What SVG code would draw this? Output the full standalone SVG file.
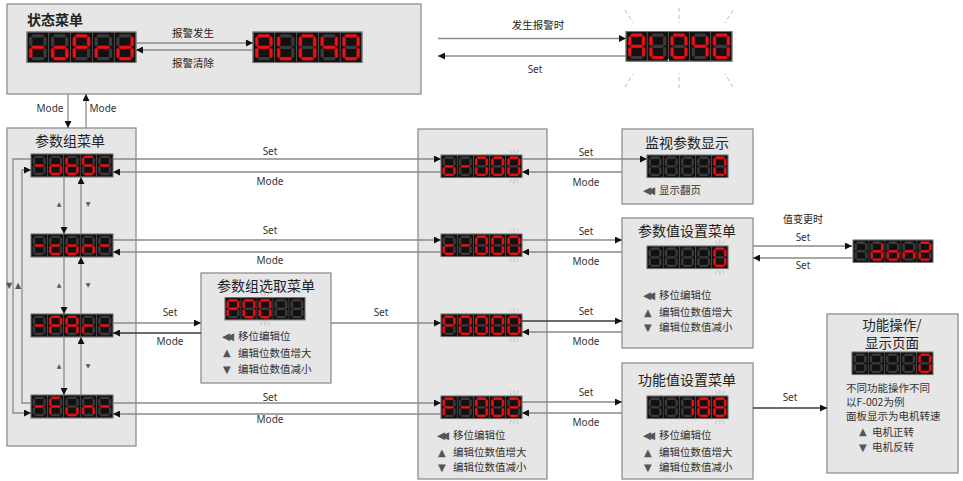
<svg xmlns="http://www.w3.org/2000/svg" width="963" height="481" viewBox="0 0 963 481">
<style>
.box{fill:#e6e6e6;stroke:#8f8f8f;stroke-width:1.3}
.t{font-family:"Noto Sans CJK SC","Noto Sans",sans-serif;fill:#222}
.title{font-size:14px;text-anchor:middle}
.lbl{font-family:"Noto Sans","Noto Sans CJK SC",sans-serif;font-size:10px;fill:#333;text-anchor:middle}
.item{font-family:"Noto Sans CJK SC","Noto Sans",sans-serif;font-size:10.5px;fill:#333}
.ic{font-family:"DejaVu Sans",sans-serif;fill:#555}
.rw{font-family:"DejaVu Sans",sans-serif;fill:#555;font-size:10.5px;letter-spacing:-4px}
.tri{font-family:"DejaVu Sans",sans-serif;fill:#555;font-size:10px}
.cn{fill:none;stroke:#8a8a8a;stroke-width:1.3}
.dk{stroke:#3a3a3a}
.off{fill:#3a3a3a}
.on{fill:#ee1118;stroke:#8a0000;stroke-width:0.4}
.ray{stroke:#b4b4b4;stroke-width:0.9}
.frame{fill:none;stroke:#777;stroke-width:1}
</style>
<defs>
<marker id="ah" viewBox="0 0 8 8" refX="8" refY="4" markerWidth="7" markerHeight="7" markerUnits="userSpaceOnUse" orient="auto"><path d="M0,0 L8,4 L0,8 z" fill="#111"/></marker>
<polygon id="sa" points="3.9,3.5 5.4,2 14.6,2 16.1,3.5 14.6,5 5.4,5"/>
<polygon id="sg" points="3.9,14 5.4,12.5 14.6,12.5 16.1,14 14.6,15.5 5.4,15.5"/>
<polygon id="sd" points="3.9,24.5 5.4,23 14.6,23 16.1,24.5 14.6,26 5.4,26"/>
<polygon id="sf" points="3.5,3.9 5,5.4 5,12.1 3.5,13.6 2,12.1 2,5.4"/>
<polygon id="sb" points="16.5,3.9 18,5.4 18,12.1 16.5,13.6 15,12.1 15,5.4"/>
<polygon id="se" points="3.5,14.4 5,15.9 5,22.6 3.5,24.1 2,22.6 2,15.9"/>
<polygon id="sc" points="16.5,14.4 18,15.9 18,22.6 16.5,24.1 15,22.6 15,15.9"/>
<g id="cell"><rect width="20" height="28" fill="#111" stroke="#555" stroke-width="0.6"/><g class="off"><use href="#sa"/><use href="#sb"/><use href="#sc"/><use href="#sd"/><use href="#se"/><use href="#sf"/><use href="#sg"/></g></g>
<g id="c_"><use href="#cell"/></g>
<g id="cM"><use href="#cell"/><g class="on"><use href="#sg"/></g></g>
<g id="cr"><use href="#cell"/><g class="on"><use href="#se"/><use href="#sg"/></g></g>
<g id="co"><use href="#cell"/><g class="on"><use href="#sc"/><use href="#sd"/><use href="#se"/><use href="#sg"/></g></g>
<g id="cP"><use href="#cell"/><g class="on"><use href="#sa"/><use href="#sb"/><use href="#se"/><use href="#sf"/><use href="#sg"/></g></g>
<g id="cd"><use href="#cell"/><g class="on"><use href="#sb"/><use href="#sc"/><use href="#sd"/><use href="#se"/><use href="#sg"/></g></g>
<g id="cA"><use href="#cell"/><g class="on"><use href="#sa"/><use href="#sb"/><use href="#sc"/><use href="#se"/><use href="#sf"/><use href="#sg"/></g></g>
<g id="cL"><use href="#cell"/><g class="on"><use href="#sd"/><use href="#se"/><use href="#sf"/></g></g>
<g id="c0"><use href="#cell"/><g class="on"><use href="#sa"/><use href="#sb"/><use href="#sc"/><use href="#sd"/><use href="#se"/><use href="#sf"/></g></g>
<g id="c4"><use href="#cell"/><g class="on"><use href="#sb"/><use href="#sc"/><use href="#sf"/><use href="#sg"/></g></g>
<g id="cb"><use href="#cell"/><g class="on"><use href="#sc"/><use href="#sd"/><use href="#se"/><use href="#sf"/><use href="#sg"/></g></g>
<g id="cS"><use href="#cell"/><g class="on"><use href="#sa"/><use href="#sc"/><use href="#sd"/><use href="#sf"/><use href="#sg"/></g></g>
<g id="cc"><use href="#cell"/><g class="on"><use href="#sd"/><use href="#se"/><use href="#sg"/></g></g>
<g id="cn"><use href="#cell"/><g class="on"><use href="#sc"/><use href="#se"/><use href="#sg"/></g></g>
<g id="cF"><use href="#cell"/><g class="on"><use href="#sa"/><use href="#se"/><use href="#sf"/><use href="#sg"/></g></g>
<g id="cu"><use href="#cell"/><g class="on"><use href="#sc"/><use href="#sd"/><use href="#se"/></g></g>
<g id="c2"><use href="#cell"/><g class="on"><use href="#sa"/><use href="#sb"/><use href="#sd"/><use href="#se"/><use href="#sg"/></g></g>
<g id="c1"><use href="#cell"/><g class="on"><use href="#sb"/><use href="#sc"/></g></g>
<g id="c8"><use href="#cell"/><g class="on"><use href="#sa"/><use href="#sb"/><use href="#sc"/><use href="#sd"/><use href="#se"/><use href="#sf"/><use href="#sg"/></g></g>
<g id="rays" class="ray"><line x1="-3" y1="-1.5" x2="-5.5" y2="-6.5"/><line x1="0" y1="-1.5" x2="0" y2="-7.5"/><line x1="3" y1="-1.5" x2="5.5" y2="-6.5"/><line x1="-3" y1="29.5" x2="-5.5" y2="34.5"/><line x1="0" y1="29.5" x2="0" y2="35.5"/><line x1="3" y1="29.5" x2="5.5" y2="34.5"/></g>
</defs>

<rect width="963" height="481" fill="#fff"/>

<!-- nodes -->
<g id="status-menu">
<rect class="box" x="7" y="4" width="414" height="90"/>
<text class="t" x="27" y="25" font-size="14" font-weight="bold">状态菜单</text>
<g transform="translate(27,32) scale(1.09)"><use href="#cr"/><use href="#co" x="20"/><use href="#cP" x="40"/><use href="#cr" x="60"/><use href="#cd" x="80"/><rect class="frame" width="100" height="28"/></g>
<g transform="translate(253,32) scale(1.09)"><use href="#cA"/><use href="#cL" x="20"/><use href="#c0" x="40"/><use href="#c4" x="60"/><use href="#c0" x="80"/><rect class="frame" width="100" height="28"/></g>
</g>

<g id="alarm-display">
<g transform="translate(626,31.5) scale(1.06)"><use href="#cA"/><use href="#cL" x="20"/><use href="#c0" x="40"/><use href="#c4" x="60"/><use href="#c0" x="80"/><rect class="frame" width="100" height="28"/><circle cx="40" cy="27" r="0.8" fill="#eee"/></g>
<g class="ray" stroke-dasharray="4,3"><line x1="625" y1="10" x2="633" y2="23"/><line x1="679" y1="8" x2="679" y2="23"/><line x1="733" y1="10" x2="725" y2="23"/><line x1="625" y1="87" x2="633" y2="74"/><line x1="679" y1="88" x2="679" y2="73"/><line x1="733" y1="87" x2="725" y2="74"/></g>
</g>

<g id="param-group-menu">
<rect class="box" x="7" y="128" width="129" height="318"/>
<text class="t title" x="70" y="146">参数组菜单</text>
<g transform="translate(31,154) scale(0.82)"><use href="#cM"/><use href="#co" x="20"/><use href="#cb" x="40"/><use href="#cS" x="60"/><use href="#cM" x="80"/><rect class="frame" width="100" height="28"/></g>
<g transform="translate(31,234) scale(0.82)"><use href="#cM"/><use href="#cc" x="20"/><use href="#co" x="40"/><use href="#cn" x="60"/><use href="#cM" x="80"/><rect class="frame" width="100" height="28"/></g>
<g transform="translate(31,314) scale(0.82)"><use href="#cM"/><use href="#cP" x="20"/><use href="#cA" x="40"/><use href="#cr" x="60"/><use href="#cM" x="80"/><rect class="frame" width="100" height="28"/></g>
<g transform="translate(31,395) scale(0.82)"><use href="#cM"/><use href="#cF" x="20"/><use href="#cu" x="40"/><use href="#cn" x="60"/><use href="#cM" x="80"/><rect class="frame" width="100" height="28"/></g>
</g>

<g id="param-select-menu">
<rect class="box" x="201" y="273" width="130" height="110"/>
<text class="t title" x="266" y="291">参数组选取菜单</text>
<g transform="translate(225,297.5) scale(0.8)"><use href="#cP"/><use href="#c0" x="20"/><use href="#c0" x="40"/><use href="#c_" x="60"/><use href="#c_" x="80"/><rect class="frame" width="100" height="28"/><use href="#rays" x="50"/></g>
<text class="rw" x="222" y="339.5">◀◀</text><text class="item" x="238" y="339.5">移位编辑位</text>
<text class="tri" x="223" y="356">▲</text><text class="item" x="238" y="356.5">编辑位数值增大</text>
<text class="tri" x="223" y="372.5">▼</text><text class="item" x="238" y="373">编辑位数值减小</text>
</g>

<g id="param-list">
<rect class="box" x="418" y="129" width="129" height="350"/>
<g transform="translate(441,155) scale(0.81)"><use href="#co"/><use href="#cM" x="20"/><use href="#c0" x="40"/><use href="#c0" x="60"/><use href="#c0" x="80"/><rect class="frame" width="100" height="28"/><use href="#rays" x="90"/></g>
<g transform="translate(441,234) scale(0.81)"><use href="#cc"/><use href="#cM" x="20"/><use href="#c0" x="40"/><use href="#c0" x="60"/><use href="#c0" x="80"/><rect class="frame" width="100" height="28"/><use href="#rays" x="90"/></g>
<g transform="translate(441,314) scale(0.81)"><use href="#cP"/><use href="#c0" x="20"/><use href="#c0" x="40"/><use href="#c0" x="60"/><use href="#c0" x="80"/><rect class="frame" width="100" height="28"/><use href="#rays" x="90"/></g>
<g transform="translate(441,396) scale(0.81)"><use href="#cF"/><use href="#cM" x="20"/><use href="#c0" x="40"/><use href="#c0" x="60"/><use href="#c2" x="80"/><rect class="frame" width="100" height="28"/><use href="#rays" x="90"/></g>
<text class="rw" x="437" y="439">◀◀</text><text class="item" x="453" y="439">移位编辑位</text>
<text class="tri" x="438" y="455.5">▲</text><text class="item" x="453" y="456">编辑位数值增大</text>
<text class="tri" x="438" y="470.5">▼</text><text class="item" x="453" y="471">编辑位数值减小</text>
</g>

<g id="monitor-display">
<rect class="box" x="622" y="129" width="131" height="75"/>
<text class="t title" x="687" y="148">监视参数显示</text>
<g transform="translate(647,155) scale(0.81)"><use href="#c_"/><use href="#c_" x="20"/><use href="#c_" x="40"/><use href="#c_" x="60"/><use href="#c0" x="80"/><rect class="frame" width="100" height="28"/></g>
<text class="rw" x="643" y="194">◀◀</text><text class="item" x="659" y="194">显示翻页</text>
</g>

<g id="param-value-menu">
<rect class="box" x="622" y="218" width="131" height="130"/>
<text class="t title" x="687" y="236">参数值设置菜单</text>
<g transform="translate(647,246) scale(0.81)"><use href="#c_"/><use href="#c_" x="20"/><use href="#c_" x="40"/><use href="#c_" x="60"/><use href="#c0" x="80"/><rect class="frame" width="100" height="28"/><use href="#rays" x="90"/></g>
<text class="rw" x="643" y="299">◀◀</text><text class="item" x="659" y="299">移位编辑位</text>
<text class="tri" x="644" y="315.5">▲</text><text class="item" x="659" y="316">编辑位数值增大</text>
<text class="tri" x="644" y="330.5">▼</text><text class="item" x="659" y="331">编辑位数值减小</text>
</g>

<g id="done-display">
<g transform="translate(853,240) scale(0.8)"><use href="#c_"/><use href="#cd" x="20"/><use href="#co" x="40"/><use href="#cn" x="60"/><use href="#c2" x="80"/><rect class="frame" width="100" height="28"/></g>
</g>

<g id="func-value-menu">
<rect class="box" x="622" y="363" width="131" height="116"/>
<text class="t title" x="687" y="385">功能值设置菜单</text>
<g transform="translate(647,396) scale(0.81)"><use href="#c_"/><use href="#c_" x="20"/><use href="#c1" x="40"/><use href="#c8" x="60"/><use href="#c8" x="80"/><rect class="frame" width="100" height="28"/><use href="#rays" x="90"/></g>
<text class="rw" x="643" y="439">◀◀</text><text class="item" x="659" y="439">移位编辑位</text>
<text class="tri" x="644" y="455.5">▲</text><text class="item" x="659" y="456">编辑位数值增大</text>
<text class="tri" x="644" y="470.5">▼</text><text class="item" x="659" y="471">编辑位数值减小</text>
</g>

<g id="func-op-page">
<rect class="box" x="827" y="314" width="131" height="159"/>
<text class="t" x="892" y="330" font-size="13.5" text-anchor="middle">功能操作/</text>
<text class="t" x="892" y="348" font-size="13.5" text-anchor="middle">显示页面</text>
<g transform="translate(852,352) scale(0.81)"><use href="#c_"/><use href="#c_" x="20"/><use href="#c_" x="40"/><use href="#c_" x="60"/><use href="#c0" x="80"/><rect class="frame" width="100" height="28"/></g>
<text class="item" x="846" y="391.5" font-size="10">不同功能操作不同</text>
<text class="item" x="846" y="405.5" font-size="10">以F-002为例</text>
<text class="item" x="846" y="419.5" font-size="10">面板显示为电机转速</text>
<text class="tri" x="859" y="435">▲</text><text class="item" x="872" y="435.5" font-size="11">电机正转</text>
<text class="tri" x="859" y="450.5">▼</text><text class="item" x="872" y="451" font-size="11">电机反转</text>
</g>

<!-- connectors -->
<g id="connectors">
<g class="cn" marker-end="url(#ah)">
<path d="M136,43 H253"/>
<path d="M253,50 H136"/>
<path d="M438,38.5 H626"/>
<path d="M626,56 H438"/>
<path d="M68,94 V128"/>
<path d="M86,128 V94"/>
<path d="M64,177 V234"/>
<path d="M81,234 V177"/>
<path d="M64,257 V314"/>
<path d="M81,314 V257"/>
<path d="M64,337 V395"/>
<path d="M81,395 V337"/>
<path d="M31,159 H13 V413 H31"/>
<path d="M31,403 H22 V170 H31"/>
<path d="M113,159 H441"/>
<path d="M441,172 H113"/>
<path d="M113,240 H441"/>
<path d="M441,252 H113"/>
<path d="M113,323 H201"/>
<path class="dk" d="M201,333 H113"/>
<path d="M331,323 H441"/>
<path d="M113,403 H441"/>
<path d="M441,414 H113"/>
<path d="M522,159 H647"/>
<path d="M622,172 H522"/>
<path d="M522,240 H622"/>
<path d="M622,252 H522"/>
<path class="dk" d="M522,321 H622"/>
<path d="M622,332 H522"/>
<path d="M522,402 H622"/>
<path d="M622,413 H522"/>
<path d="M753,246 H852"/>
<path d="M852,258 H753"/>
<path class="dk" d="M753,408 H827"/>
</g>
<g class="lbl">
<text class="t" x="193" y="37" font-size="10.5" text-anchor="middle" fill="#333">报警发生</text>
<text class="t" x="193" y="67" font-size="10.5" text-anchor="middle" fill="#333">报警清除</text>
<text class="t" x="538" y="29" font-size="10.5" text-anchor="middle" fill="#333">发生报警时</text>
<text x="535" y="73">Set</text>
<text x="50" y="112">Mode</text>
<text x="103" y="112">Mode</text>
<text x="270" y="155">Set</text>
<text x="270" y="185">Mode</text>
<text x="270" y="234">Set</text>
<text x="270" y="264">Mode</text>
<text x="170" y="316">Set</text>
<text x="170" y="345">Mode</text>
<text x="381" y="316">Set</text>
<text x="270" y="401">Set</text>
<text x="270" y="423">Mode</text>
<text x="586" y="156">Set</text>
<text x="586" y="186">Mode</text>
<text x="586" y="235">Set</text>
<text x="586" y="265">Mode</text>
<text x="586" y="315">Set</text>
<text x="586" y="345">Mode</text>
<text x="586" y="396">Set</text>
<text x="586" y="426">Mode</text>
<text class="t" x="803" y="223" font-size="10" text-anchor="middle" fill="#333">值变更时</text>
<text x="803" y="241">Set</text>
<text x="803" y="269">Set</text>
<text x="790" y="401">Set</text>
</g>
<g class="ic" font-size="6" text-anchor="middle">
<text x="59" y="206">▲</text><text x="88" y="206">▼</text>
<text x="59" y="287">▲</text><text x="88" y="287">▼</text>
<text x="59" y="368">▲</text><text x="88" y="368">▼</text>
<text x="9" y="288" font-size="8">▼</text><text x="18" y="288" font-size="8">▲</text>
</g>
</g>
</svg>
